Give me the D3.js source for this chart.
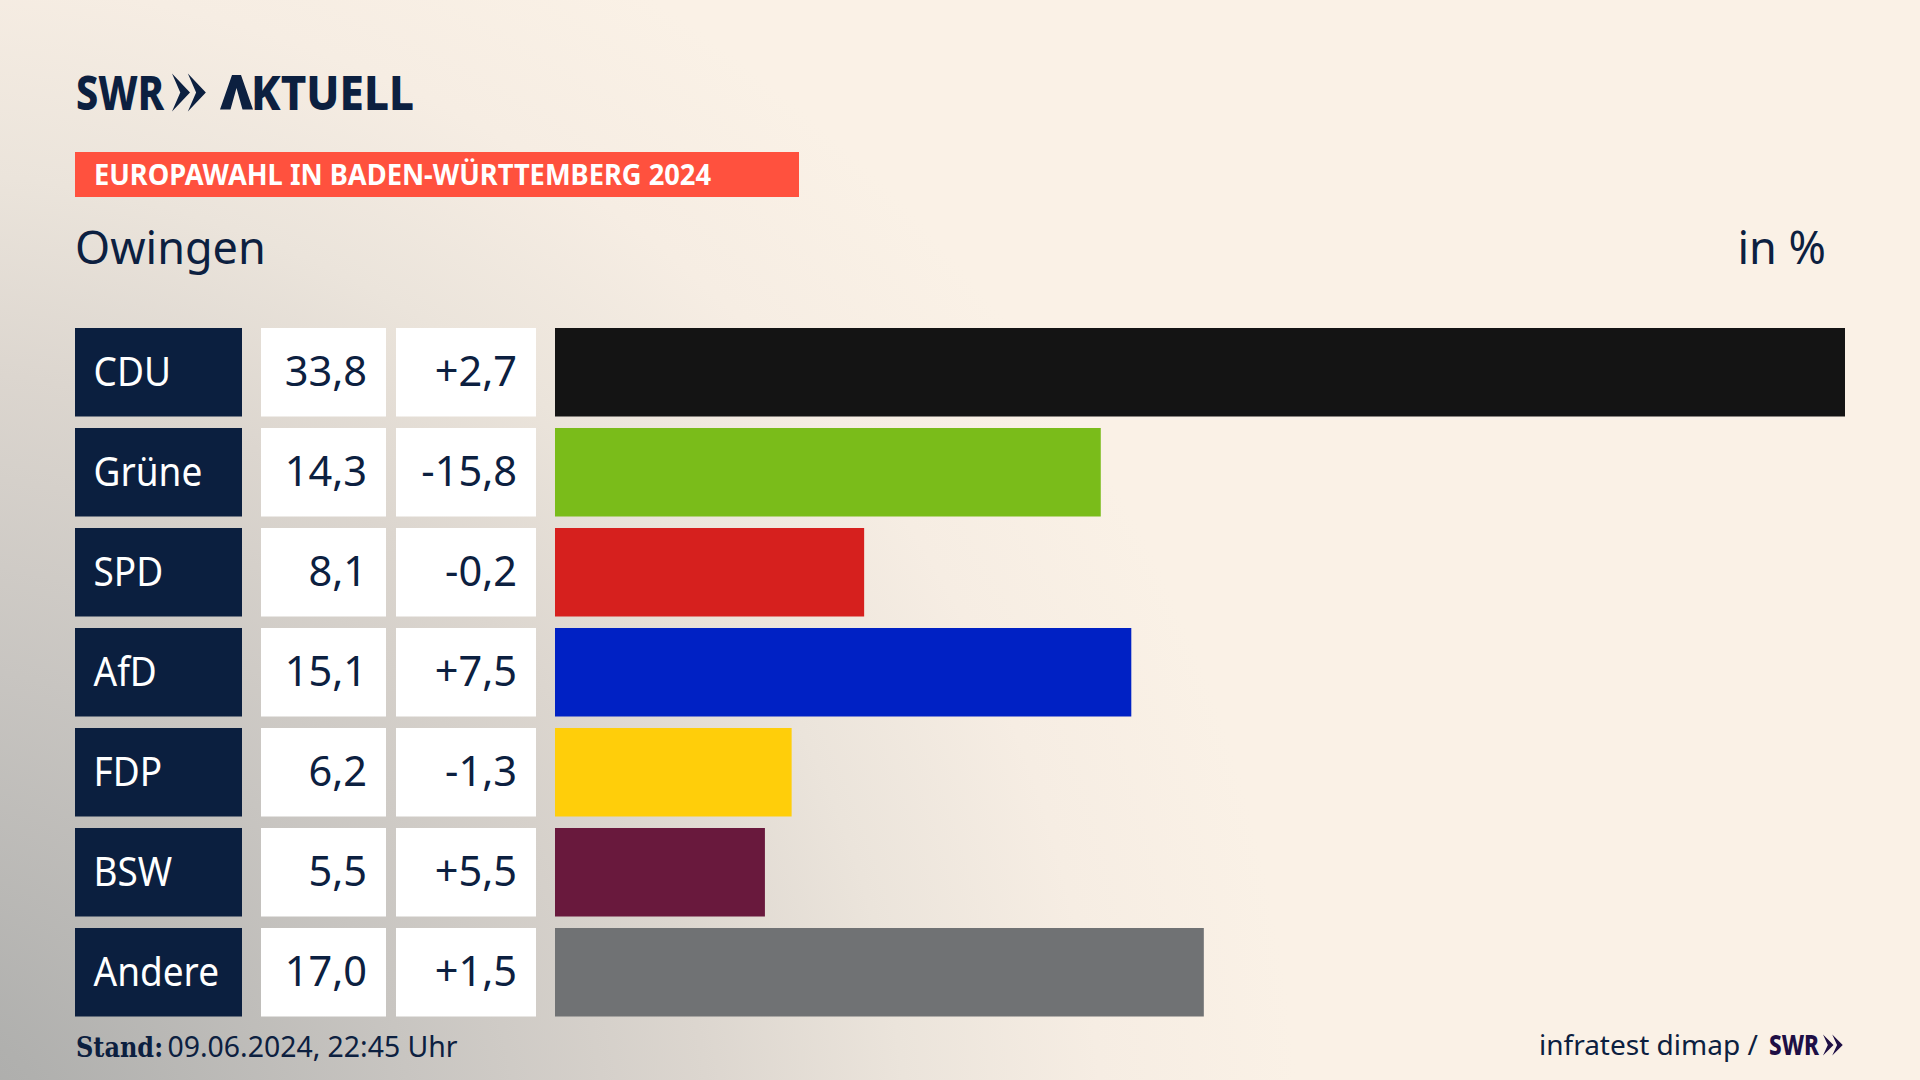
<!DOCTYPE html>
<html lang="de">
<head>
<meta charset="utf-8">
<title>Europawahl in Baden-Württemberg 2024 - Owingen</title>
<script src="https://cdn.jsdelivr.net/npm/d3@7"></script>
<style>
    html, body { margin: 0; padding: 0; background: #faf1e6; }
    svg { display: block; }
    text { font-family: "Noto Sans", sans-serif; fill: #0c2040; }
</style>
</head>
<body>
<div id="chart"></div>
<script>
const parties = ["CDU", "Grüne", "SPD", "AfD", "FDP", "BSW", "Andere"];
const shares = [33.8, 14.3, 8.1, 15.1, 6.2, 5.5, 17.0];
const changes = [2.7, -15.8, -0.2, 7.5, -1.3, 5.5, 1.5];
const partyColors = ["#141414", "#7abc1a", "#d6201e", "#0021c4", "#ffce0a", "#69193d", "#707274"];

const width = 1920, height = 1080;
const navy = "#0c2040";

const deLocale = d3.formatLocale({ decimal: ",", thousands: ".", grouping: [3], currency: ["", " €"], minus: "-" });
const fmtShare = deLocale.format(".1f");
const fmtChange = deLocale.format("+.1f");

const svg = d3.select("#chart").append("svg")
    .attr("width", width)
    .attr("height", height);

// Background: cream with grey shade coming from the lower left corner
const shade = svg.append("defs").append("radialGradient")
    .attr("id", "shade")
    .attr("gradientUnits", "userSpaceOnUse")
    .attr("cx", -100).attr("cy", 1180).attr("r", 1400);
[[0, "#a8a8a7"], [0.12, "#b0b0ae"], [0.37, "#c8c5c1"], [0.58, "#dcd6cf"], [0.72, "#ebe4db"], [0.86, "#f6ede3"], [1, "#faf1e6"]]
    .forEach(s => shade.append("stop").attr("offset", s[0]).attr("stop-color", s[1]));

svg.append("rect").attr("width", width).attr("height", height).attr("fill", "url(#shade)");

// SWR double chevron
function chevrons(x, top, w, h, color) {
    const g = svg.append("g").attr("fill", color);
    [0, 0.88].forEach(k => {
        const x0 = x + k * w;
        const p = d3.path();
        p.moveTo(x0, top);
        p.lineTo(x0 + w, top + h / 2);
        p.lineTo(x0, top + h);
        p.lineTo(x0 + w * 0.46, top + h / 2);
        p.closePath();
        g.append("path").attr("d", p.toString());
    });
}

// Header
svg.append("text")
    .attr("x", 76).attr("y", 109.5)
    .attr("font-size", 48).attr("font-weight", 800)
    .attr("textLength", 88).attr("lengthAdjust", "spacingAndGlyphs")
    .text("SWR");
chevrons(172, 73.5, 18, 38, navy);

// the logo's A has no crossbar, so the glyph stays as text and the shape is drawn over it
const aktuell = svg.append("text")
    .attr("x", 220).attr("y", 109.5)
    .attr("font-size", 48).attr("font-weight", 800)
    .attr("textLength", 194).attr("lengthAdjust", "spacingAndGlyphs");
aktuell.append("tspan").style("fill-opacity", 0).text("A");
aktuell.append("tspan").text("KTUELL");
svg.append("polygon")
    .attr("points", "220,109.5 232,75 241,75 253,109.5 242.5,109.5 236.5,88 230.5,109.5")
    .attr("fill", navy);

svg.append("rect")
    .attr("x", 75).attr("y", 152)
    .attr("width", 724).attr("height", 45)
    .attr("fill", "#ff513e");
svg.append("text")
    .attr("x", 94).attr("y", 185)
    .attr("font-size", 28).attr("font-weight", 700)
    .attr("textLength", 617).attr("lengthAdjust", "spacingAndGlyphs")
    .style("fill", "#ffffff")
    .text("EUROPAWAHL IN BADEN-WÜRTTEMBERG 2024");

svg.append("text")
    .attr("x", 75).attr("y", 264)
    .attr("font-size", 45)
    .text("Owingen");
svg.append("text")
    .attr("x", 1826).attr("y", 264)
    .attr("font-size", 45)
    .attr("text-anchor", "end")
    .text("in %");

// Scales
const y = d3.scaleBand()
    .domain(parties)
    .range([328, 1016.5])
    .paddingInner(0.115);

const x = d3.scaleLinear()
    .domain([0, d3.max(shares)])
    .range([555, 1845]);

const rows = svg.selectAll("g.row")
    .data(parties)
    .enter()
    .append("g")
    .attr("class", "row")
    .attr("transform", d => `translate(0,${y(d)})`);

const textY = 58;

// Party name box
rows.append("rect")
    .attr("x", 75).attr("width", 167)
    .attr("height", y.bandwidth())
    .attr("fill", "#0b1f3f");
rows.append("text")
    .attr("transform", `translate(93.5,${textY}) scale(0.925,1)`)
    .attr("font-size", 40)
    .style("fill", "#ffffff")
    .text(d => d);

// Share box
rows.append("rect")
    .attr("x", 261).attr("width", 125)
    .attr("height", y.bandwidth())
    .attr("fill", "#ffffff");
rows.append("text")
    .attr("x", 367).attr("y", textY)
    .attr("font-size", 41.5)
    .attr("text-anchor", "end")
    .text((d, i) => fmtShare(shares[i]));

// Change box
rows.append("rect")
    .attr("x", 396).attr("width", 140)
    .attr("height", y.bandwidth())
    .attr("fill", "#ffffff");
rows.append("text")
    .attr("x", 517).attr("y", textY)
    .attr("font-size", 41.5)
    .attr("text-anchor", "end")
    .text((d, i) => fmtChange(changes[i]));

// Bars
rows.append("rect")
    .attr("class", "bar")
    .attr("x", x(0))
    .attr("width", (d, i) => x(shares[i]) - x(0))
    .attr("height", y.bandwidth())
    .attr("fill", (d, i) => partyColors[i]);

// Footer
svg.append("text")
    .attr("x", 76).attr("y", 1057)
    .attr("font-size", 28).attr("font-weight", 700)
    .attr("textLength", 87).attr("lengthAdjust", "spacingAndGlyphs")
    .style("font-family", '"DejaVu Serif", serif')
    .text("Stand:");
svg.append("text")
    .attr("x", 167.5).attr("y", 1057)
    .attr("font-size", 28.4)
    .text("09.06.2024, 22:45 Uhr");

svg.append("text")
    .attr("x", 1539).attr("y", 1055)
    .attr("font-size", 28)
    .text("infratest dimap /");
svg.append("text")
    .attr("x", 1769).attr("y", 1055)
    .attr("font-size", 28).attr("font-weight", 800)
    .attr("textLength", 50).attr("lengthAdjust", "spacingAndGlyphs")
    .style("fill", "#1e0f45")
    .text("SWR");
chevrons(1823, 1034.5, 10.5, 21, "#1e0f45");
</script>
</body>
</html>
